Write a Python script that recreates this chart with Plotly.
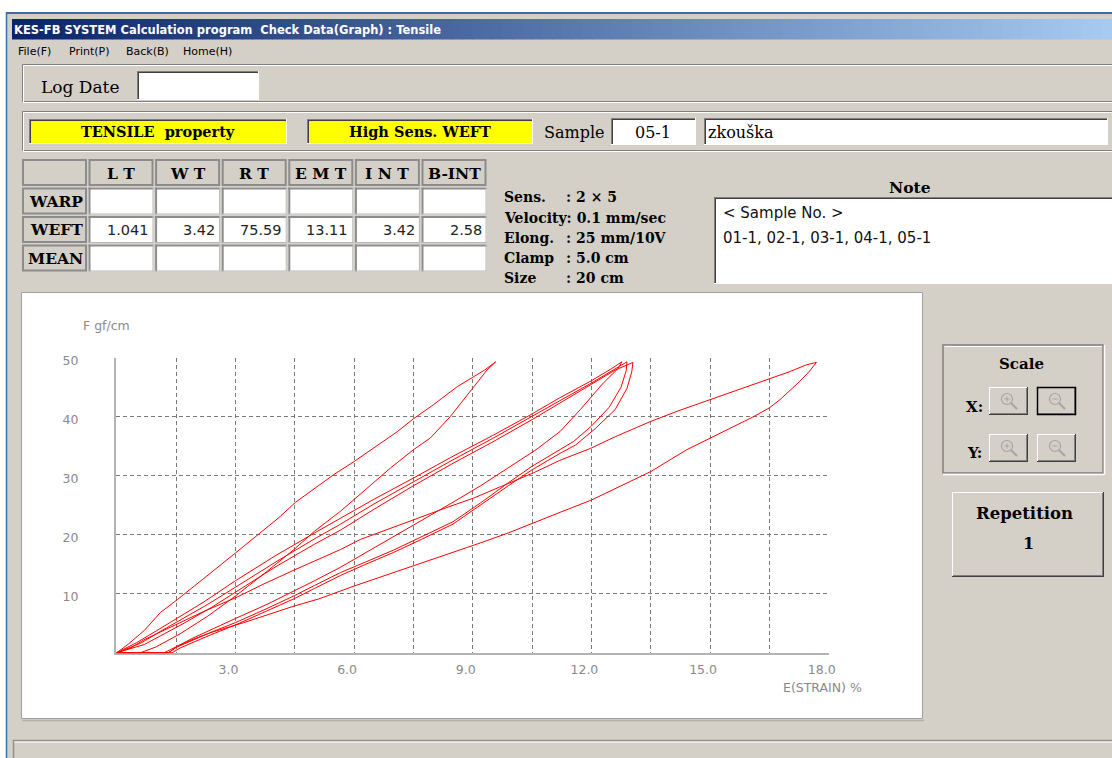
import plotly.graph_objects as go

W, H = 1112, 758
BG = "#D4D0C8"
SERIF = "DejaVu Serif"
SANS = "DejaVu Sans"

# ---------------- data ----------------
SAMPLES = ["01-1", "02-1", "03-1", "04-1", "05-1"]

LOAD_X_01 = [0, 0.3, 0.7, 1.1, 1.53, 2.0, 2.37, 3.0, 3.64, 4.1, 4.52, 5.0, 5.49, 6.0, 6.67, 7.1, 7.51, 8.0, 8.61, 9.03, 9.3, 9.58]
LOAD_Y_01 = [0, 1.5, 3.8, 6.8, 9.0, 11.6, 13.5, 16.9, 20.3, 22.9, 25.5, 27.9, 30.2, 32.4, 35.5, 37.5, 39.7, 42.0, 45.1, 46.8, 47.9, 49.3]
UNLOAD_X_01 = [9.58, 9.36, 9.03, 8.43, 7.93, 7.5, 6.92, 6.16, 5.66, 5.0, 4.5, 3.8, 3.0, 2.3, 1.6, 1.0, 0.6, 0]
UNLOAD_Y_01 = [49.3, 47.9, 45.1, 40.0, 36.4, 34.4, 31.3, 26.8, 24.0, 20.6, 17.6, 13.8, 9.6, 6.2, 3.2, 1.0, 0, 0]

LOAD_X_02 = [0, 0.5, 1.0, 1.5, 2.2, 3.0, 4.0, 5.0, 5.66, 6.5, 7.5, 8.5, 9.5, 10.4, 11.2, 12.0, 12.5, 12.77]
LOAD_Y_02 = [0, 1.7, 3.7, 5.7, 8.6, 12.2, 16.4, 20.3, 22.8, 26.0, 29.6, 33.3, 36.8, 40.1, 43.2, 46.1, 48.1, 49.3]
UNLOAD_X_02 = [12.77, 12.68, 12.3, 11.72, 11.21, 10.6, 9.9, 9.2, 8.5, 7.7, 7.0, 6.3, 5.66, 5.0, 4.5, 3.8, 3.0, 2.4, 1.9, 1.5, 1.2, 0]
UNLOAD_Y_02 = [49.3, 48.2, 45.7, 41.2, 37.5, 34.4, 31.3, 28.3, 25.5, 22.4, 19.8, 17.0, 14.5, 12.2, 10.5, 8.2, 5.8, 4.0, 2.4, 1.0, 0, 0]

LOAD_X_03 = [0, 0.6, 1.1, 1.6, 2.3, 3.0, 4.0, 5.0, 5.66, 6.5, 7.5, 8.5, 9.5, 10.5, 11.2, 12.0, 12.6, 12.9]
LOAD_Y_03 = [0, 1.6, 3.6, 5.5, 8.2, 11.1, 15.3, 19.3, 21.8, 25.2, 29.0, 32.7, 36.3, 40.0, 42.7, 45.7, 48.1, 49.3]
UNLOAD_X_03 = [12.9, 12.88, 12.75, 12.45, 12.0, 11.55, 11.21, 10.5, 9.9, 9.2, 8.5, 7.7, 7.0, 6.3, 5.66, 5.0, 4.5, 3.8, 3.0, 2.4, 1.9, 1.5, 1.3, 0]
UNLOAD_Y_03 = [49.3, 47.8, 45.0, 41.6, 38.4, 35.8, 34.4, 31.6, 28.8, 25.4, 22.2, 19.6, 17.4, 15.4, 13.6, 11.4, 9.7, 7.5, 5.1, 3.5, 2.1, 0.9, 0, 0]

LOAD_X_04 = [0, 0.7, 1.2, 1.7, 2.4, 3.0, 4.0, 5.0, 5.66, 6.5, 7.5, 8.5, 9.5, 10.55, 11.2, 12.0, 12.6, 13.05]
LOAD_Y_04 = [0, 1.4, 3.2, 5.0, 7.7, 10.2, 14.5, 18.4, 20.8, 24.3, 28.3, 32.1, 35.7, 39.7, 42.3, 45.4, 47.9, 49.2]
UNLOAD_X_04 = [13.05, 13.02, 12.9, 12.6, 12.1, 11.6, 11.21, 10.5, 9.9, 9.2, 8.5, 7.7, 7.0, 6.3, 5.66, 5.0, 4.5, 3.8, 3.0, 2.4, 1.9, 1.6, 1.4, 0]
UNLOAD_Y_04 = [49.2, 47.6, 44.8, 41.2, 38.0, 35.2, 33.8, 31.0, 28.3, 25.0, 21.8, 19.2, 17.0, 15.0, 13.1, 10.9, 9.2, 7.1, 4.7, 3.1, 1.7, 0.8, 0, 0]

LOAD_X_05 = [0, 0.35, 0.69, 1.1, 1.53, 2.2, 3.0, 3.7, 4.48, 5.1, 5.66, 6.16, 6.8, 7.51, 8.3, 9.02, 9.8, 10.54, 11.2, 11.97, 12.6, 13.5, 14.2, 15.0, 15.7, 16.5, 17.0, 17.44, 17.69]
LOAD_Y_05 = [0, 0.8, 2.2, 3.5, 4.8, 7.0, 9.3, 11.6, 14.0, 15.9, 17.5, 19.2, 20.8, 22.6, 24.5, 26.2, 28.4, 30.5, 32.6, 34.6, 36.6, 39.2, 41.0, 42.9, 44.6, 46.5, 47.6, 48.8, 49.2]
UNLOAD_X_05 = [17.69, 17.5, 17.27, 16.77, 16.5, 16.1, 15.0, 14.41, 13.5, 12.73, 12.01, 11.21, 10.54, 9.9, 9.19, 8.3, 7.5, 6.7, 6.0, 5.1, 4.48, 3.8, 3.21, 2.37, 1.9, 1.53, 1.32, 0]
UNLOAD_Y_05 = [49.2, 47.6, 46.0, 42.9, 41.5, 40.0, 36.4, 34.4, 30.7, 28.2, 25.9, 23.8, 22.0, 20.3, 18.6, 16.6, 14.7, 12.9, 11.3, 9.1, 7.9, 6.4, 5.1, 3.4, 2.2, 1.1, 0, 0]

X_GRID = [1.5, 3.0, 4.5, 6.0, 7.5, 9.0, 10.5, 12.0, 13.5, 15.0, 16.5, 18.0]
X_LABELS = ["", "3.0", "", "6.0", "", "9.0", "", "12.0", "", "15.0", "", "18.0"]
Y_GRID = [10, 20, 30, 40, 50]
Y_LABELS = ["10", "20", "30", "40", "50"]

TABLE_COLS = ["L T", "W T", "R T", "E M T", "I N T", "B-INT"]
TABLE_ROWS = ["WARP", "WEFT", "MEAN"]
WEFT_VALUES = ["1.041", "3.42", "75.59", "13.11", "3.42", "2.58"]

CONDITIONS = [("Sens.", ": 2 × 5"), ("Velocity: 0.1 mm/sec", ""), ("Elong.", ": 25 mm/10V"),
              ("Clamp", ": 5.0 cm"), ("Size", ": 20 cm")]
NOTE_LINES = ["&lt; Sample No. &gt;", "01-1, 02-1, 03-1, 04-1, 05-1"]
MENU = ["File(F)", "Print(P)", "Back(B)", "Home(H)"]

# ---------------- helpers ----------------
def X(px):
    return px / W


def Y(py):
    return 1 - py / H


shapes = []
anns = []


def rect(x0, y0, x1, y1, fill=None, line=None, lw=1):
    shapes.append(dict(type="rect", xref="paper", yref="paper",
                       x0=X(x0), x1=X(x1), y0=Y(y1), y1=Y(y0),
                       fillcolor=fill if fill else "rgba(0,0,0,0)",
                       line=dict(color=line if line else "rgba(0,0,0,0)", width=lw if line else 0),
                       layer="below"))


def seg(x0, y0, x1, y1, color, lw=1):
    shapes.append(dict(type="line", xref="paper", yref="paper",
                       x0=X(x0), y0=Y(y0), x1=X(x1), y1=Y(y1),
                       line=dict(color=color, width=lw), layer="below"))


def circ(cx, cy, r, color, lw=1.2):
    shapes.append(dict(type="circle", xref="paper", yref="paper",
                       x0=X(cx - r), x1=X(cx + r), y0=Y(cy + r), y1=Y(cy - r),
                       line=dict(color=color, width=lw), fillcolor="rgba(0,0,0,0)", layer="below"))


def text(px, py, s, size, family=SERIF, color="black", anchor="left", bold=False):
    anns.append(dict(xref="paper", yref="paper", x=X(px), y=Y(py), text=s, showarrow=False,
                     xanchor=anchor, yanchor="middle", borderpad=0,
                     font=dict(size=size, family=family, color=color,
                               weight="bold" if bold else "normal")))


def sunken(x0, y0, x1, y1, fill="white"):
    rect(x0, y0, x1, y1, fill=fill)
    seg(x0, y0 + 0.5, x1, y0 + 0.5, "#808080")
    seg(x0 + 0.5, y0, x0 + 0.5, y1, "#808080")
    seg(x0 + 1, y0 + 1.5, x1 - 1, y0 + 1.5, "#404040")
    seg(x0 + 1.5, y0 + 1, x0 + 1.5, y1 - 1, "#404040")
    seg(x0, y1 - 0.5, x1, y1 - 0.5, "#FFFFFF")
    seg(x1 - 0.5, y0, x1 - 0.5, y1, "#FFFFFF")


def raised(x0, y0, x1, y1, fill=BG, focus=False):
    rect(x0, y0, x1, y1, fill=fill)
    seg(x0, y0 + 0.5, x1, y0 + 0.5, "#FFFFFF")
    seg(x0 + 0.5, y0, x0 + 0.5, y1, "#FFFFFF")
    seg(x0 + 1, y1 - 1.5, x1 - 1, y1 - 1.5, "#808080")
    seg(x1 - 1.5, y0 + 1, x1 - 1.5, y1 - 1, "#808080")
    seg(x0, y1 - 0.5, x1, y1 - 0.5, "#404040")
    seg(x1 - 0.5, y0, x1 - 0.5, y1, "#404040")
    if focus:
        rect(x0 + 0.5, y0 + 0.5, x1 - 0.5, y1 - 0.5, line="#000000", lw=1.5)


def etched(x0, y0, x1, y1):
    rect(x0 + 0.5, y0 + 0.5, x1 - 1.5, y1 - 1.5, line="#808080", lw=1)
    rect(x0 + 1.5, y0 + 1.5, x1 - 0.5, y1 - 0.5, line="#FFFFFF", lw=1)


# ---------------- window chrome ----------------
rect(0, 0, W, 12, fill="#FFFFFF")
rect(0, 0, 6, H, fill="#FFFFFF")
seg(6, 13, W, 13, "#3D6AA8", 2)
seg(6.5, 12, 6.5, H, "#3D6AA8", 1.5)

# title bar gradient
n = 110
c0 = (10, 36, 106)
c1 = (166, 202, 240)
xa0, xa1 = 12, W
for i in range(n):
    xa = xa0 + (xa1 - xa0) * i / n
    xb = xa0 + (xa1 - xa0) * (i + 1) / n + 0.6
    t = i / (n - 1)
    col = tuple(round(c0[k] + (c1[k] - c0[k]) * t) for k in range(3))
    rect(xa, 19, xb, 39.5, fill="rgb(%d,%d,%d)" % col)
text(13, 29.5, "KES-FB SYSTEM Calculation program\u00a0 Check Data(Graph) : Tensile", 11.5, SANS, "white", bold=True)

# menu
menu_x = [17, 68, 125, 182]
for mx, m in zip(menu_x, MENU):
    text(mx, 51, m, 11, SANS)

# log date group
etched(22, 64, W + 2, 103)
text(40, 87, "Log Date", 17, SERIF)
sunken(137, 71, 259, 100)

# tensile / sample group
etched(22, 111, W + 2, 152)
sunken(29, 119, 287, 144, fill="#FFFF00")
text(158, 131.5, "TENSILE\u00a0 property", 14.5, SERIF, anchor="center", bold=True)
sunken(307, 119, 533, 144, fill="#FFFF00")
text(420, 131.5, "High Sens. WEFT", 14.5, SERIF, anchor="center", bold=True)
text(606, 132, "Sample", 16, SERIF, anchor="right")
sunken(611, 118, 696, 145)
text(653, 132, SAMPLES[-1], 16, SERIF, anchor="center")
sunken(704, 118, 1108, 145)
text(707, 132, "zkouška", 16, SERIF)

# table
col_x0 = [88.5 + i * 66.6 for i in range(len(TABLE_COLS))]
row_y0 = [159 + j * 28.5 for j in range(len(TABLE_ROWS) + 1)]
CW, CH = 65, 27


def gray_cell(x0, y0, x1, y1):
    rect(x0, y0, x1, y1, fill=BG)
    rect(x0 + 1, y0 + 1, x1 - 1, y1 - 1, line="#8C8C8C", lw=2)


gray_cell(22, row_y0[0], 87, row_y0[0] + CH)
for i, c in enumerate(TABLE_COLS):
    gray_cell(col_x0[i], row_y0[0], col_x0[i] + CW, row_y0[0] + CH)
    text(col_x0[i] + CW / 2, row_y0[0] + CH / 2 + 0.5, c, 15.5, SERIF, anchor="center", bold=True)
for j, r in enumerate(TABLE_ROWS):
    y0 = row_y0[j + 1]
    gray_cell(22, y0, 87, y0 + CH)
    text(84, y0 + CH / 2 + 0.5, r, 15.5, SERIF, anchor="right", bold=True)
    for i in range(len(TABLE_COLS)):
        x0 = col_x0[i]
        rect(x0, y0, x0 + CW, y0 + CH, fill="white")
        seg(x0, y0 + 1, x0 + CW, y0 + 1, "#8C8C8C", 2)
        seg(x0 + 1, y0, x0 + 1, y0 + CH, "#8C8C8C", 2)
        seg(x0, y0 + CH - 0.5, x0 + CW, y0 + CH - 0.5, "#B8B8B8", 1)
        seg(x0 + CW - 0.5, y0, x0 + CW - 0.5, y0 + CH, "#B8B8B8", 1)
        if r == "WEFT":
            text(x0 + CW - 4, y0 + CH / 2 + 0.5, WEFT_VALUES[i], 14.5, SANS, "#222222", anchor="right")

# measurement conditions
cond_y = [197, 218, 238.5, 258, 278]
for (lab, val), cy in zip(CONDITIONS, cond_y):
    text(503, cy, lab, 14, SERIF, bold=True)
    if val:
        text(565, cy, val, 14, SERIF, bold=True)

# note
text(910, 187.5, "Note", 15.5, SERIF, anchor="center", bold=True)
sunken(714, 197, W + 2, 284)
text(722, 212.5, NOTE_LINES[0], 15, SANS, "#111111")
text(722, 238, NOTE_LINES[1], 15, SANS, "#111111")

# chart panel
rect(21, 292, 923, 719, fill="white")
rect(21.5, 292.5, 922.5, 718.5, line="#A0A0A0", lw=1)
seg(22, 720.5, 924, 720.5, "#B4B0A8", 1.5)

# scale group
rect(943, 345, 1103, 473, line="#808080", lw=1.5)
seg(943, 474.5, 1104.5, 474.5, "#FFFFFF", 1.5)
seg(1104.5, 345, 1104.5, 474.5, "#FFFFFF", 1.5)
seg(944.5, 346.5, 1102, 346.5, "#FFFFFF", 1)
text(1022, 363.5, "Scale", 15, SERIF, anchor="center", bold=True)
text(974, 406.5, "X:", 15, SERIF, anchor="center", bold=True)
text(974, 453, "Y:", 15, SERIF, anchor="center", bold=True)

buttons = [(989, 387, True, False), (1037, 387, False, True), (989, 434, True, False), (1037, 434, False, False)]
for bx, by, plus, focus in buttons:
    raised(bx, by, bx + 39, by + 28, focus=focus)
    cx, cy = bx + 18, by + 12
    circ(cx, cy, 5.5, "#A4A4A4", 1.2)
    seg(cx + 4, cy + 4, cx + 10, cy + 10, "#A4A4A4", 2)
    seg(cx - 2.5, cy, cx + 2.5, cy, "#A4A4A4", 1)
    if plus:
        seg(cx, cy - 2.5, cx, cy + 2.5, "#A4A4A4", 1)

# repetition
raised(952, 492, 1104, 577)
text(1024, 513, "Repetition", 16.5, SERIF, anchor="center", bold=True)
text(1028, 543.5, "1", 16, SERIF, anchor="center", bold=True)

# status bar
seg(13, 740.5, W, 740.5, "#909090", 1.5)
seg(13, 742, W, 742, "#FFFFFF", 1)
seg(13.5, 740, 13.5, H, "#909090", 1.5)

# axis titles
text(82, 326, "F gf/cm", 12.5, SANS, "#8A8A8A")
text(782, 687, "E(STRAIN) %", 12.5, SANS, "#8A8A8A")

# ---------------- figure ----------------
fig = go.Figure()
series = [
    (SAMPLES[0], LOAD_X_01, LOAD_Y_01, UNLOAD_X_01, UNLOAD_Y_01),
    (SAMPLES[1], LOAD_X_02, LOAD_Y_02, UNLOAD_X_02, UNLOAD_Y_02),
    (SAMPLES[2], LOAD_X_03, LOAD_Y_03, UNLOAD_X_03, UNLOAD_Y_03),
    (SAMPLES[3], LOAD_X_04, LOAD_Y_04, UNLOAD_X_04, UNLOAD_Y_04),
    (SAMPLES[4], LOAD_X_05, LOAD_Y_05, UNLOAD_X_05, UNLOAD_Y_05),
]
for name, lx, ly, ux, uy in series:
    fig.add_trace(go.Scatter(x=lx + ux, y=ly + uy, mode="lines", name=name,
                             line=dict(color="#FF0000", width=1), showlegend=False,
                             hoverinfo="skip"))

tickfont = dict(family=SANS, size=12.5, color="#8A8A8A")
fig.update_layout(
    width=W, height=H, autosize=False,
    margin=dict(l=0, r=0, t=0, b=0, pad=0, autoexpand=False),
    paper_bgcolor=BG, plot_bgcolor="white", showlegend=False,
    shapes=shapes, annotations=anns,
    xaxis=dict(domain=[X(116), X(828.7)], range=[-0.02, 18], tickmode="array",
               tickvals=X_GRID, ticktext=X_LABELS, showgrid=True, gridcolor="#7A7A7A",
               gridwidth=1, griddash="4px,3px", showline=True, linecolor="#B4B4B4",
               linewidth=2, zeroline=False, ticks="", tickfont=tickfont, automargin=False,
               ticklabelshift=-7, ticklabelstandoff=4, layer="below traces", fixedrange=True),
    yaxis=dict(domain=[Y(653.3), Y(357.7)], range=[-0.1, 50], tickmode="array",
               tickvals=Y_GRID, ticktext=Y_LABELS, showgrid=True, gridcolor="#7A7A7A",
               gridwidth=1, griddash="4px,3px", showline=True, linecolor="#B4B4B4",
               linewidth=2, zeroline=False, ticks="", tickfont=tickfont, automargin=False,
               ticklabelshift=3, ticklabelstandoff=33, layer="below traces", fixedrange=True),
)

fig.write_html("out.html", include_plotlyjs=True, config={"displayModeBar": False},
               post_script="document.body.style.margin='0';document.body.style.overflow='hidden';")
